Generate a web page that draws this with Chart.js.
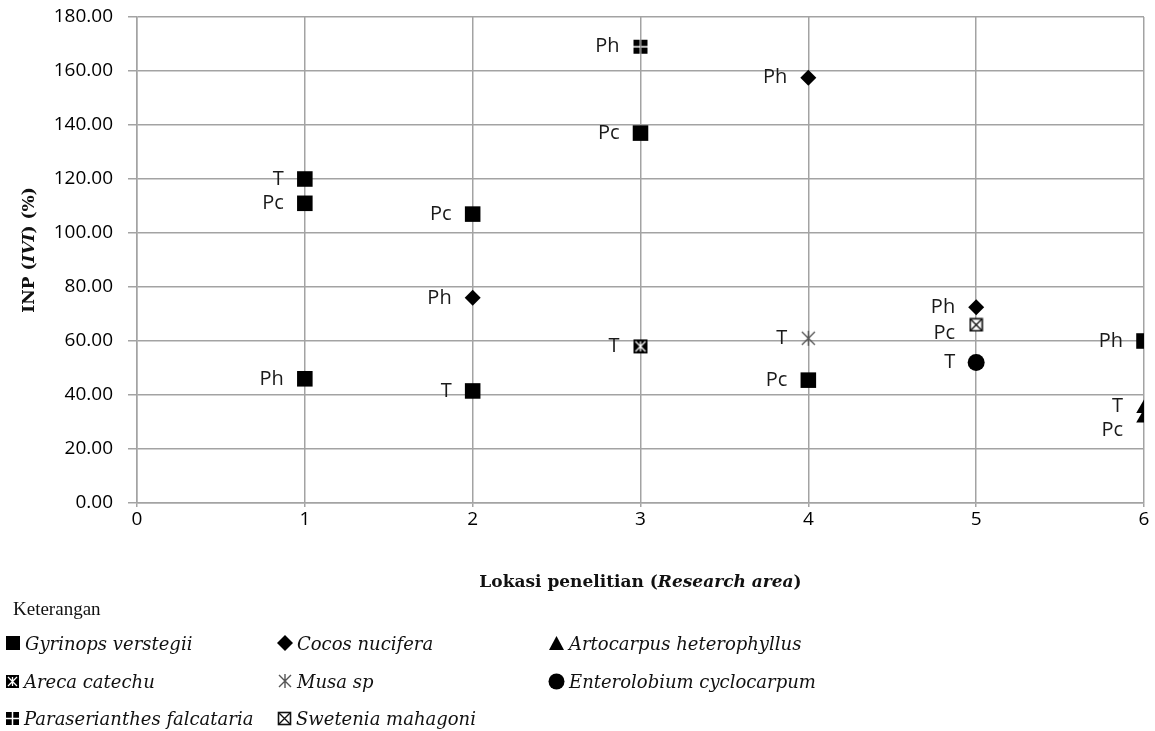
<!DOCTYPE html>
<html><head><meta charset="utf-8">
<script src="https://cdn.jsdelivr.net/npm/chart.js@4.4.1/dist/chart.umd.min.js"></script>
<style>
html,body{margin:0;padding:0;background:#fff;}
#wrap{position:relative;width:1155px;height:731px;overflow:hidden;}
#c{position:absolute;left:0;top:0;}
.leg{position:absolute;font-family:'DejaVu Serif',serif;font-style:italic;font-size:18px;color:#111;white-space:nowrap;display:flex;align-items:center;height:26px;}
.leg canvas{margin-right:4px;}
#ket{position:absolute;left:13px;top:597px;font-family:'Liberation Serif',serif;font-size:19px;line-height:24px;color:#111;}
</style></head>
<body>
<div id="wrap">
<canvas id="c" width="1155" height="731"></canvas>
<div id="ket">Keterangan</div>
</div>
<script>
// ---------- data ----------
const xTicks = [0,1,2,3,4,5,6];
const yMin = 0, yMax = 180, yStep = 20;

const speciesNames = ['Gyrinops verstegii','Cocos nucifera','Artocarpus heterophyllus','Areca catechu','Musa sp','Enterolobium cyclocarpum','Paraserianthes falcataria','Swetenia mahagoni'];

const gyrinopsX = [1,1,1,2,2,3,4,6];
const gyrinopsY = [120,111,46,107,41.5,137,45.5,60];
const gyrinopsLbl = ['T','Pc','Ph','Pc','T','Pc','Pc','Ph'];

const cocosX = [2,4,5];
const cocosY = [76,157.5,72.5];
const cocosLbl = ['Ph','Ph','Ph'];

const artocarpusX = [6,6];
const artocarpusY = [35,31.5];
const artocarpusLbl = ['T','Pc'];

const arecaX = [3];
const arecaY = [58];
const arecaLbl = ['T'];

const musaX = [4];
const musaY = [61];
const musaLbl = ['T'];

const enteroX = [5];
const enteroY = [52];
const enteroLbl = ['T'];

const paraX = [3];
const paraY = [169];
const paraLbl = ['Ph'];

const swetX = [5];
const swetY = [66];
const swetLbl = ['Pc'];

// ---------- custom marker drawings ----------
function mk(size, fn){const c=document.createElement('canvas');c.width=size;c.height=size;const g=c.getContext('2d');fn(g,size);return c;}
function drawPara(g,s){g.fillStyle='#000';const o=1,h=(s-2-1.5)/2;g.fillRect(o,o,h,h);g.fillRect(o+h+1.5,o,h,h);g.fillRect(o,o+h+1.5,h,h);g.fillRect(o+h+1.5,o+h+1.5,h,h);}
function drawAreca(g,s){g.fillStyle='#000';g.fillRect(1,1,s-2,s-2);g.strokeStyle='#fff';g.lineWidth=1.3;g.beginPath();g.moveTo(3,3);g.lineTo(s-3,s-3);g.moveTo(s-3,3);g.lineTo(3,s-3);g.moveTo(s/2,3);g.lineTo(s/2,s-3);g.stroke();}
function drawSwet(g,s){g.fillStyle='#fff';g.fillRect(1,1,s-2,s-2);g.strokeStyle='#111';g.lineWidth=1.6;g.strokeRect(1.5,1.5,s-3,s-3);g.lineWidth=1.4;g.beginPath();g.moveTo(2,2);g.lineTo(s-2,s-2);g.moveTo(s-2,2);g.lineTo(2,s-2);g.stroke();}
function drawMusa(g,s){g.strokeStyle='#555';g.lineWidth=1.4;g.beginPath();g.moveTo(s/2,1);g.lineTo(s/2,s-1);g.moveTo(2,2);g.lineTo(s-2,s-2);g.moveTo(s-2,2);g.lineTo(2,s-2);g.stroke();}
function drawSquare(g,s){g.fillStyle='#000';g.fillRect(1,1,s-2,s-2);}
function drawDiamond(g,s){g.fillStyle='#000';g.beginPath();g.moveTo(s/2,0);g.lineTo(s,s/2);g.lineTo(s/2,s);g.lineTo(0,s/2);g.closePath();g.fill();}
function drawTri(g,s){g.fillStyle='#000';g.beginPath();g.moveTo(s/2,1);g.lineTo(s-1,s-2);g.lineTo(1,s-2);g.closePath();g.fill();}
function drawCircle(g,s){g.fillStyle='#000';g.beginPath();g.arc(s/2,s/2,s/2-0.5,0,Math.PI*2);g.fill();}

const imgPara = mk(16,drawPara), imgAreca = mk(16,drawAreca), imgSwet = mk(15,drawSwet), imgMusa = mk(17,drawMusa);

function pts(xs,ys,ls){return xs.map((x,i)=>({x:x,y:ys[i],lbl:ls[i]}));}

const datasets = [
  {label:speciesNames[0], data:pts(gyrinopsX,gyrinopsY,gyrinopsLbl), pointStyle:'rect', pointRadius:11, backgroundColor:'#000', borderColor:'#000', borderWidth:0},
  {label:speciesNames[1], data:pts(cocosX,cocosY,cocosLbl), pointStyle:'rectRot', pointRadius:8, backgroundColor:'#000', borderColor:'#000', borderWidth:0},
  {label:speciesNames[2], data:pts(artocarpusX,artocarpusY,artocarpusLbl), pointStyle:'triangle', pointRadius:9, backgroundColor:'#000', borderColor:'#000', borderWidth:0},
  {label:speciesNames[3], data:pts(arecaX,arecaY,arecaLbl), pointStyle:imgAreca, backgroundColor:'#000'},
  {label:speciesNames[4], data:pts(musaX,musaY,musaLbl), pointStyle:imgMusa, backgroundColor:'#555'},
  {label:speciesNames[5], data:pts(enteroX,enteroY,enteroLbl), pointStyle:'circle', pointRadius:8.5, backgroundColor:'#000', borderColor:'#000', borderWidth:0},
  {label:speciesNames[6], data:pts(paraX,paraY,paraLbl), pointStyle:imgPara, backgroundColor:'#000'},
  {label:speciesNames[7], data:pts(swetX,swetY,swetLbl), pointStyle:imgSwet, backgroundColor:'#000'}
];

const labelNudges = [{ds:2,i:1,dy:12},{ds:7,i:0,dy:8},{ds:2,i:0,dy:-2}];

const pointLabels = {
  id:'pointLabels',
  afterDatasetsDraw(chart){
    const ctx=chart.ctx;ctx.save();
    ctx.font='20px "Open Sans"';ctx.fillStyle='#1a1a1a';ctx.textAlign='right';ctx.textBaseline='middle';
    chart.data.datasets.forEach((ds,di)=>{
      const meta=chart.getDatasetMeta(di);
      meta.data.forEach((el,i)=>{
        const n=labelNudges.find(o=>o.ds===di&&o.i===i);
        ctx.fillText(ds.data[i].lbl, el.x-21, el.y+(n?n.dy:0));
      });
    });
    ctx.restore();
  }
};

function drawSegs(ctx,segs,cx,cy){
  let total=0;segs.forEach(s=>{ctx.font=s.f;s.w=ctx.measureText(s.t).width;total+=s.w;});
  let x=cx-total/2;ctx.textAlign='left';ctx.textBaseline='middle';
  segs.forEach(s=>{ctx.font=s.f;ctx.fillText(s.t,x,cy);x+=s.w;});
}
const axisTitles = {
  id:'axisTitles',
  afterDraw(chart){
    const ctx=chart.ctx, a=chart.chartArea;ctx.save();ctx.fillStyle='#111';
    const B='bold 17px "DejaVu Serif"', BI='italic bold 17px "DejaVu Serif"';
    drawSegs(ctx,[{t:'Lokasi penelitian (',f:B},{t:'Research area',f:BI},{t:')',f:B}],(a.left+a.right)/2,583);
    ctx.translate(30,250);ctx.rotate(-Math.PI/2);
    drawSegs(ctx,[{t:'INP (',f:B},{t:'IVI',f:BI},{t:') (%)',f:B}],0,0);
    ctx.restore();
  }
};

const gridCol='#a3a3a3';
new Chart(document.getElementById('c'),{
  type:'scatter',
  data:{datasets:datasets},
  options:{
    responsive:false, animation:false,
    layout:{padding:{left:0,right:4,top:17,bottom:0}},
    plugins:{legend:{display:false},tooltip:{enabled:false}},
    scales:{
      x:{type:'linear',min:xTicks[0],max:xTicks[xTicks.length-1],
        afterBuildTicks(s){s.ticks=xTicks.map(v=>({value:v}));},
        afterFit(s){s.height=228;s.paddingLeft=0;s.paddingRight=0;},
        ticks:{font:{family:'Open Sans',size:19},color:'#000',padding:1,callback:v=>String(v)},
        grid:{color:gridCol,lineWidth:1.5,tickLength:4},
        border:{color:gridCol,width:1.5}},
      y:{min:yMin,max:yMax,
        afterFit(s){s.width=137;s.paddingTop=0;s.paddingBottom=0;},
        ticks:{stepSize:yStep,font:{family:'Open Sans',size:19},color:'#000',padding:15,callback:v=>v.toFixed(2)},
        grid:{color:gridCol,lineWidth:1.5,tickLength:9},
        border:{color:gridCol,width:1.5}}
    }
  },
  plugins:[pointLabels,axisTitles]
});

// ---------- legend (HTML) ----------
const legendIcons = [[drawSquare,16],[drawDiamond,16],[drawTri,17],[drawAreca,15],[drawMusa,16],[drawCircle,17],[drawPara,15],[drawSwet,15]];
const legendCols = [5,277,548];
const legendRows = [643,681,718];
const wrap=document.getElementById('wrap');
speciesNames.forEach((name,i)=>{
  const d=document.createElement('div');d.className='leg';
  d.style.left=legendCols[i%3]+'px';d.style.top=(legendRows[Math.floor(i/3)]-13)+'px';
  const ic=mk(legendIcons[i][1],legendIcons[i][0]);d.appendChild(ic);
  const sp=document.createElement('span');sp.textContent=name;d.appendChild(sp);
  wrap.appendChild(d);
});
</script>
</body></html>
